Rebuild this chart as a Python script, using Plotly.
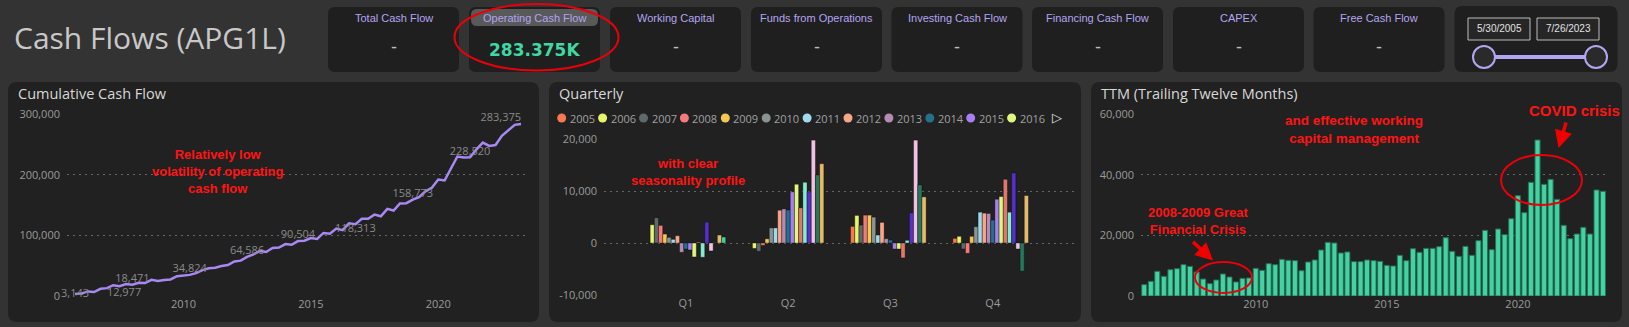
import plotly.graph_objects as go

W, H = 1629, 327
def X(px): return px / W
def Y(py): return 1 - py / H

# ---------------- data ----------------
qend = {3: "03-31", 6: "06-30", 9: "09-30", 12: "12-31"}
dates = [f"{y}-{qend[m]}" for y in range(2005, 2024) for m in (3, 6, 9, 12)
         if (2005, 9) <= (y, m) <= (2023, 3)]

cumulative = [3143, 4030, 7540, 6510, 11810, 12977, 17830, 16230, 19680, 18471,
              21850, 21400, 26760, 24780, 26500, 27300, 32660, 33940, 34824, 37720,
              42700, 45830, 46530, 49430, 50960, 56890, 58290, 64586, 68550, 74290,
              72500, 79050, 79880, 85560, 84410, 90504, 91070, 95470, 94130, 103960,
              102810, 111230, 108550, 119850, 118313, 127240, 127430, 134190, 131320, 143570,
              140830, 152510, 153020, 158773, 162790, 172620, 178430, 191900, 190370, 210150,
              229930, 228370, 228520, 241600, 252770, 247350, 248880, 264130, 273000, 282130,
              283375]
label_idx = [0, 5, 9, 18, 27, 35, 44, 53, 62, 70]
label_pos = ["middle center", "bottom right", "top center", "top center", "top center",
             "top center", "bottom center", "top center", "top center", "top left"]

years = [str(y) for y in range(2005, 2024)]
quarters = ["Q1", "Q2", "Q3", "Q4"]
q1 = [None, 3510, 4850, 3380, 1720, 1080, 700, 1400, -1790, -1150, -1340, -2680, 190, -2740, 4020, -1530, 150, 1530, 1150]
q2 = [None, -1030, -1600, -450, 800, 2900, 2900, 6300, 6550, 6350, 9830, 11300, 6760, 11680, 9830, 19780, 13080, 15250, None]
q3 = [3190, 5300, 3450, 5360, 5360, 4980, 1530, 3960, 830, 570, -1150, -1150, -2870, 510, 5810, 19780, 11170, 8870, None]
q4 = [890, 1280, -1150, -1980, 1280, 3130, 5930, 5740, 5680, 4400, 8420, 8930, 12250, 5930, 13470, -1150, -5420, 9130, None]
year_colors = ["#f7794f", "#e6f56c", "#5e696b", "#f47a7c", "#f2c752", "#8a9393", "#9fdaec",
               "#f7a688", "#b58bb3", "#26708c", "#a77ff2", "#def87f", "#e0776c", "#84eccf",
               "#5630c8", "#f1c2e2", "#29775a", "#e6b96c", "#40cf9e"]

ttm = [3740, 4840, 8130, 6480, 8680, 9010, 10330, 9780, 7910, 5600,
       4070, 5270, 7250, 6260, 4620, 5820, 5930, 9120, 8460, 10660,
       10330, 12090, 11760, 11650, 8350, 11210, 11870, 15160, 17690, 17470,
       14180, 14510, 11320, 11320, 11870, 11650, 11430, 10110, 9890, 13410,
       11650, 15600, 14400, 15710, 15710, 16260, 19230, 14730, 13080, 16370,
       13410, 18240, 21650, 15270, 22090, 20220, 25490, 33080, 27470, 37470,
       51430, 36810, 38460, 31870, 23300, 18900, 20440, 22640, 20440, 34950,
       34510]

year_ticks = ["2010-01-01", "2015-01-01", "2020-01-01"]
year_tick_text = ["2010", "2015", "2020"]
cum_ticks = [0, 100000, 200000, 300000]
q_ticks = [-10000, 0, 10000, 20000]
q_tick_text = ["-10,000", "0", "10,000", "20,000"]
ttm_ticks = [0, 20000, 40000, 60000]

kpi_titles = ["Total Cash Flow", "Operating Cash Flow", "Working Capital", "Funds from Operations",
              "Investing Cash Flow", "Financing Cash Flow", "CAPEX", "Free Cash Flow"]
kpi_values = ["-", "283.375K", "-", "-", "-", "-", "-", "-"]
date_from, date_to = "5/30/2005", "7/26/2023"

# ---------------- styles ----------------
PAGE = "#333333"
PANEL = "#212121"
CARD = "#1f1f1f"
TICK = dict(family="Open Sans", size=11, color="#9b9b9b")
GRID = "#666666"
RED = "#ff1414"
LAV = "#b3a5f0"

fig = go.Figure()

fig.add_trace(go.Scatter(x=dates, y=cumulative, mode="lines",
                         line=dict(color="#a888f2", width=2.5), xaxis="x", yaxis="y"))
fig.add_trace(go.Scatter(x=[dates[i] for i in label_idx], y=[cumulative[i] for i in label_idx],
                         mode="text", text=[f"{cumulative[i]:,}" for i in label_idx],
                         textposition=label_pos, cliponaxis=False,
                         textfont=dict(family="Open Sans", size=11, color="#8a8a8a"),
                         xaxis="x", yaxis="y"))

for i, yr in enumerate(years):
    fig.add_trace(go.Bar(x=quarters, y=[q1[i], q2[i], q3[i], q4[i]], name=yr,
                         marker=dict(color=year_colors[i], line=dict(color="rgba(0,0,0,0.35)", width=1)),
                         xaxis="x2", yaxis="y2"))

fig.add_trace(go.Bar(x=dates, y=ttm, marker=dict(color="#42d3a2", line=dict(color="#2a6d56", width=1)),
                     xaxis="x3", yaxis="y3"))

common_y = dict(showgrid=True, gridcolor=GRID, griddash="2px,4px", gridwidth=1, zeroline=False,
                tickfont=TICK, ticks="", showline=False, tickformat=",", ticklabelstandoff=6,
                automargin=False)
common_x = dict(showgrid=False, zeroline=False, tickfont=TICK, ticks="", showline=False,
                automargin=False)

fig.update_layout(
    width=W, height=H, autosize=False, margin=dict(l=0, r=0, t=0, b=0, pad=0, autoexpand=False),
    paper_bgcolor=PAGE, plot_bgcolor="rgba(0,0,0,0)",
    showlegend=False, barmode="group", bargap=0.22, bargroupgap=0,
    xaxis=dict(domain=[X(67), X(525)], type="date", range=["2005-06-07", "2023-05-27"],
               tickvals=year_ticks, ticktext=year_tick_text, anchor="y", **common_x),
    yaxis=dict(domain=[Y(296), Y(114)], range=[0, 300000], tickvals=cum_ticks, anchor="x", **common_y),
    xaxis2=dict(domain=[X(604), X(1074)], type="category", range=[-0.8, 3.794],
                categoryorder="array", categoryarray=quarters, anchor="y2", **common_x),
    yaxis2=dict(domain=[Y(295), Y(139)], range=[-10000, 20000], tickvals=q_ticks,
                ticktext=q_tick_text, anchor="x2", **common_y),
    xaxis3=dict(domain=[X(1141), X(1607)], type="date", range=["2005-08-16", "2023-05-26"],
                tickvals=year_ticks, ticktext=year_tick_text, anchor="y3", **common_x),
    yaxis3=dict(domain=[Y(296), Y(114)], range=[0, 60000], tickvals=ttm_ticks, anchor="x3", **common_y),
)

shapes = []
annots = []

def rrect(x0, y0, x1, y1, r, fill, line=None, lw=0, layer="below"):
    pts = [("M", x0 + r, y0), ("L", x1 - r, y0), ("Q", x1, y0, x1, y0 + r), ("L", x1, y1 - r),
           ("Q", x1, y1, x1 - r, y1), ("L", x0 + r, y1), ("Q", x0, y1, x0, y1 - r),
           ("L", x0, y0 + r), ("Q", x0, y0, x0 + r, y0)]
    path = ""
    for p in pts:
        cmd, coords = p[0], p[1:]
        s = " ".join(f"{X(coords[k]):.6f},{Y(coords[k+1]):.6f}" for k in range(0, len(coords), 2))
        path += f"{cmd} {s} "
    path += "Z"
    shapes.append(dict(type="path", path=path, xref="paper", yref="paper", fillcolor=fill,
                       line=dict(color=line or fill, width=lw), layer=layer))

def text(x, y, s, size, color, family="Open Sans", xanchor="center", yanchor="middle", bold=False):
    if bold:
        s = f"<b>{s}</b>"
    annots.append(dict(x=X(x), y=Y(y), xref="paper", yref="paper", text=s, showarrow=False,
                       xanchor=xanchor, yanchor=yanchor, font=dict(family=family, size=size, color=color)))

# page title
text(12, 37, "Cash Flows (APG1L)", 30, "#c8c8c8", xanchor="left")

# KPI cards
card_left = [328, 469, 610, 751, 891.5, 1032, 1173, 1313.5]
for i, (t, v) in enumerate(zip(kpi_titles, kpi_values)):
    x0 = card_left[i]
    rrect(x0, 7, x0 + 131, 72, 7, CARD)
    cx = x0 + 65.5
    if v != "-":
        rrect(x0 + 2, 9, x0 + 129, 26, 6, "#595959")
        text(cx, 17.5, t, 11, LAV, family="Liberation Sans")
        text(cx, 50, v, 17, "#3fd8a2", family="DejaVu Sans", bold=True)
    else:
        text(cx, 17.5, t, 11, LAV, family="Liberation Sans")
        text(cx, 47, v, 18, "#bdbdbd", family="Liberation Sans")

# date slicer
rrect(1454.5, 6, 1617.5, 72, 8, CARD)
for bx0, s in [(1468, date_from), (1537, date_to)]:
    shapes.append(dict(type="rect", xref="paper", yref="paper", x0=X(bx0), x1=X(bx0 + 62),
                       y0=Y(40), y1=Y(18), fillcolor="#262626", line=dict(color="#bcbcbc", width=1)))
    text(bx0 + 31, 29, s, 10, "#e2e2e2", family="Liberation Sans")
shapes.append(dict(type="line", xref="paper", yref="paper", x0=X(1484), x1=X(1596), y0=Y(57), y1=Y(57),
                   line=dict(color=LAV, width=4)))
for cxp in (1484, 1596):
    shapes.append(dict(type="circle", xref="paper", yref="paper", x0=X(cxp - 11), x1=X(cxp + 11),
                       y0=Y(68), y1=Y(46), fillcolor="#2a2a2a", line=dict(color=LAV, width=2)))

# chart panels
for px0, px1, title in [(8, 539, "Cumulative Cash Flow"), (549, 1081, "Quarterly"),
                        (1091, 1622, "TTM (Trailing Twelve Months)")]:
    rrect(px0, 82, px1, 322, 9, PANEL)
    text(px0 + 8, 93.5, title, 14.5, "#d8d8d8", xanchor="left")

# custom legend for quarterly (truncated like the original)
for i in range(12):
    lx = 561.7 + i * 40.9
    shapes.append(dict(type="circle", xref="paper", yref="paper", x0=X(lx - 4.5), x1=X(lx + 4.5),
                       y0=Y(122.5), y1=Y(113.5), fillcolor=year_colors[i], line=dict(width=0)))
    text(lx + 6, 118, years[i], 11, "#a0a0a0", xanchor="left")
text(1057, 117, "▷", 13, "#e0e0e0", family="DejaVu Sans")

# red commentary
text(218, 171, "Relatively low<br>volatility of operating<br>cash flow", 13, RED,
     family="Liberation Sans", bold=True)
text(688, 171.5, "with clear<br>seasonality profile", 13, RED, family="Liberation Sans", bold=True)
text(1198, 221, "2008-2009 Great<br>Financial Crisis", 13, RED, family="Liberation Sans", bold=True)
text(1354, 129, "and effective working<br>capital management", 13.5, RED, family="Liberation Sans", bold=True)
text(1574, 110, "COVID crisis", 15, RED, family="Liberation Sans", bold=True)

# ellipses
for ex0, ey0, ex1, ey1 in [(454.5, 4, 618.5, 70.5), (1195, 262, 1252, 293), (1501, 155, 1582, 205)]:
    shapes.append(dict(type="circle", xref="paper", yref="paper", x0=X(ex0), x1=X(ex1),
                       y0=Y(ey1), y1=Y(ey0), line=dict(color="#e8000b", width=2),
                       fillcolor="rgba(0,0,0,0)", layer="above"))

# arrows
for hx, hy, tx, ty in [(1213, 260.5, 1191.5, 240.5), (1558.5, 148, 1566.5, 121)]:
    annots.append(dict(x=X(hx), y=Y(hy), xref="paper", yref="paper", text="", showarrow=True,
                       ax=tx - hx, ay=ty - hy, arrowhead=2, arrowsize=1, arrowwidth=3.5,
                       arrowcolor="#f00000"))

fig.update_layout(shapes=shapes, annotations=annots)
fig.write_html("out.html")
